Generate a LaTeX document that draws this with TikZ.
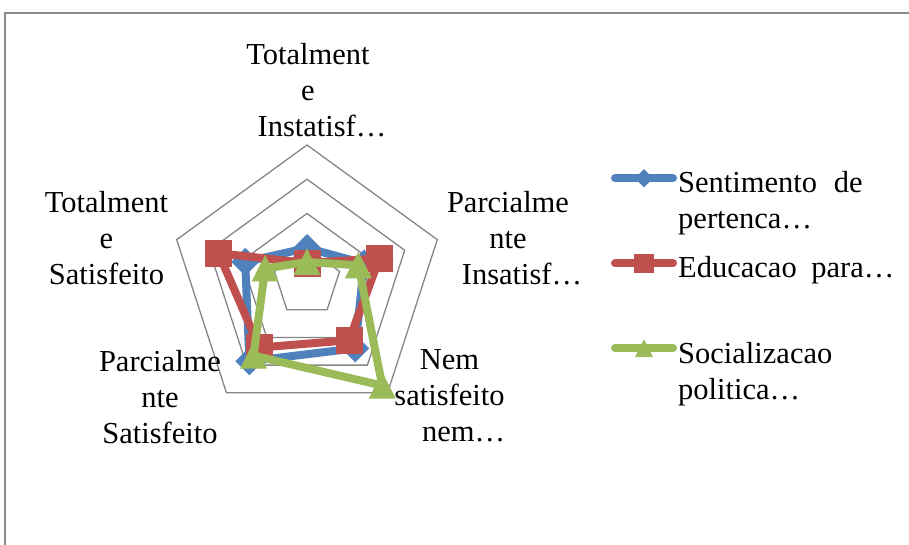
\documentclass[tikz,border=0pt]{standalone}
\usepackage{fontspec}
\setmainfont{Liberation Serif}
\definecolor{serblue}{HTML}{4F81BD}
\definecolor{serred}{HTML}{C0504D}
\definecolor{sergreen}{HTML}{9BBB59}
\definecolor{gridgray}{HTML}{868686}
\definecolor{framegray}{HTML}{8C8C8C}
\tikzset{
  lbl/.style={font=\fontsize{30.5}{36}\selectfont, inner sep=0pt, align=center},
  legtext/.style={font=\fontsize{30.5}{36}\selectfont, inner sep=0pt, align=left},
  ring/.style={draw=gridgray, line width=1.3pt, line join=miter},
  serline/.style={line width=8pt, line join=round, line cap=round},
  bluemark/.pic={\fill[serblue] (0,14) -- (14,0) -- (0,-14) -- (-14,0) -- cycle;},
  redmark/.pic={\fill[serred] (-13.5,-13.5) rectangle (13.5,13.5);},
  greenmark/.pic={\fill[sergreen] (0,13.5) -- (13.5,-13) -- (-13.5,-13) -- cycle;}
}
\begin{document}
\begin{tikzpicture}[x=1pt,y=1pt]
  \useasboundingbox (0,0) rectangle (909,-545);
  \fill[white] (0,0) rectangle (909,-545);
  % chart frame (top and left edges)
  \draw[framegray, line width=1.6pt] (5,-545) -- (5,-13) -- (909,-13);

  \begin{scope}[shift={(307,-282)}]
    % grid rings
    \foreach \r in {34.25,68.5,102.75,137}
      \draw[ring] (90:\r) -- (18:\r) -- (-54:\r) -- (-126:\r) -- (162:\r) -- cycle;

    % data points: top, right, bottom-right, bottom-left, left
    \coordinate (b0) at (90:34);  \coordinate (b1) at (18:60);
    \coordinate (b2) at (-54:82); \coordinate (b3) at (-126:98);
    \coordinate (b4) at (162:65);
    \coordinate (r0) at (90:19);  \coordinate (r1) at (18:76);
    \coordinate (r2) at (-54:72); \coordinate (r3) at (-126:81);
    \coordinate (r4) at (162:93);
    \coordinate (g0) at (90:20);  \coordinate (g1) at (18:54);
    \coordinate (g2) at (-54:128); \coordinate (g3) at (-126:91);
    \coordinate (g4) at (162:44);

    % series 1
    \draw[serline, serblue] (b0) -- (b1) -- (b2) -- (b3) -- (b4) -- cycle;
    \foreach \p in {b0,b1,b2,b3,b4} \pic at (\p) {bluemark};
    % series 2
    \draw[serline, serred] (r0) -- (r1) -- (r2) -- (r3) -- (r4) -- cycle;
    \foreach \p in {r0,r1,r2,r3,r4} \pic at (\p) {redmark};
    % series 3
    \draw[serline, sergreen] (g0) -- (g1) -- (g2) -- (g3) -- (g4) -- cycle;
    \foreach \p in {g0,g1,g2,g3,g4} \pic at (\p) {greenmark};
  \end{scope}

  % category labels
  \node[lbl, anchor=north] (ltop) at (308,-43) {Totalment\\e\\\hspace*{28pt}Instatisf…};
  \node[lbl, anchor=north] (lright) at (508,-191) {Parcialme\\nte\\\hspace*{28pt}Insatisf…};
  \node[lbl, anchor=north] (lbr) at (449.5,-349.5) {Nem\\satisfeito\\\hspace*{28pt}nem…};
  \node[lbl, anchor=north] (lbl) at (160,-350) {Parcialme\\nte\\Satisfeito};
  \node[lbl, anchor=north] (lleft) at (106.5,-191) {Totalment\\e\\Satisfeito};

  % legend
  \coordinate (k1a) at (615,-178.3); \coordinate (k1b) at (673,-178.3); \coordinate (k1m) at (644,-178.3);
  \coordinate (k2a) at (615,-263.3); \coordinate (k2b) at (673,-263.3); \coordinate (k2m) at (644,-263.3);
  \coordinate (k3a) at (615,-348.3); \coordinate (k3b) at (673,-348.3); \coordinate (k3m) at (644,-348.3);
  \draw[serline, serblue] (k1a) -- (k1b);
  \pic[scale=0.65] at (k1m) {bluemark};
  \draw[serline, serred] (k2a) -- (k2b);
  \pic[scale=0.72] at (k2m) {redmark};
  \draw[serline, sergreen] (k3a) -- (k3b);
  \pic[scale=0.66] at (k3m) {greenmark};
  \node[legtext, anchor=north west] (t1) at (678,-171) {Sentimento\hspace{9pt} de\\pertenca…};
  \node[legtext, anchor=base west] (t2) at (678,-277.5) {Educacao\hspace{7pt} para…};
  \node[legtext, anchor=north west] (t3) at (678,-342) {Socializacao\\politica…};
\end{tikzpicture}
\end{document}
